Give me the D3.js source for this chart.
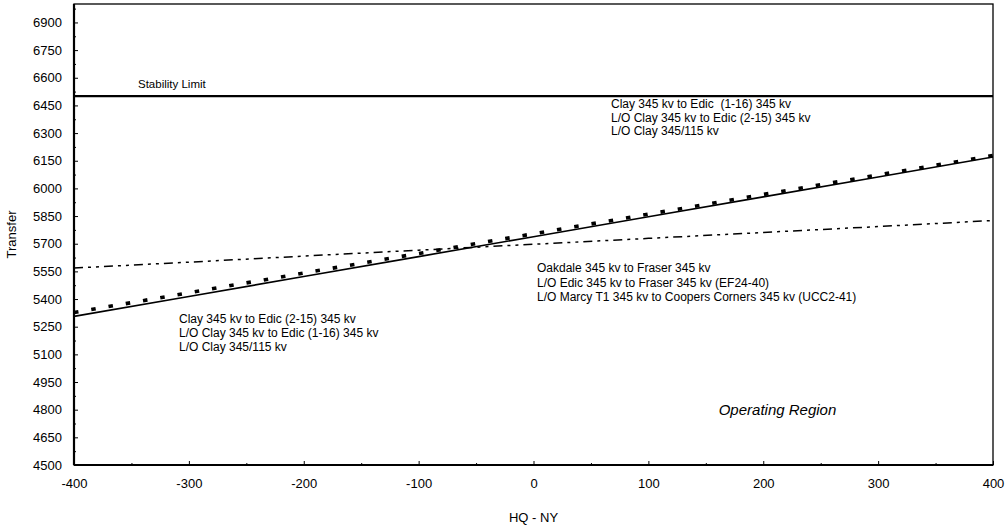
<!DOCTYPE html>
<html>
<head>
<meta charset="utf-8">
<script src="https://cdn.jsdelivr.net/npm/d3@7/dist/d3.min.js"></script>
<style>
  html, body { margin: 0; padding: 0; background: #fff; }
  svg { display: block; font-family: "Liberation Sans", Arial, sans-serif; }
  svg text { white-space: pre; }
  .tick text { font-size: 13px; fill: #000; }
  .tick line { stroke: #000; }
</style>
</head>
<body>
<svg id="chart" width="1006" height="527"></svg>
<script>
// HQ - NY transfer (MW) sample points
const hqNy = [-400, -300, -200, -100, 0, 100, 200, 300, 400];

// Clay-Edic (2-15) contingency limit, solid line
const clayEdic215 = [5306, 5414, 5522, 5630, 5738, 5846, 5954, 6062, 6170];
// Clay-Edic (1-16) contingency limit, square-dot line
const clayEdic116 = [5327, 5434, 5541, 5647, 5754, 5860, 5967, 6073, 6178];
// Oakdale-Fraser contingency limit, dash-dot line
const oakdaleFraser = [5568, 5600, 5633, 5665, 5697, 5729, 5761, 5793, 5826];

const stabilityLimit = 6500;

const xTicks = [-400, -300, -200, -100, 0, 100, 200, 300, 400];
const yTicks = [4500, 4650, 4800, 4950, 5100, 5250, 5400, 5550, 5700, 5850, 6000, 6150, 6300, 6450, 6600, 6750, 6900];

const notesUpper = [
  "Clay 345 kv to Edic  (1-16) 345 kv",
  "L/O Clay 345 kv to Edic (2-15) 345 kv",
  "L/O Clay 345/115 kv"
];
const notesMiddle = [
  "Oakdale 345 kv to Fraser 345 kv",
  "L/O Edic 345 kv to Fraser 345 kv (EF24-40)",
  "L/O Marcy T1 345 kv to Coopers Corners 345 kv (UCC2-41)"
];
const notesLower = [
  "Clay 345 kv to Edic (2-15) 345 kv",
  "L/O Clay 345 kv to Edic (1-16) 345 kv",
  "L/O Clay 345/115 kv"
];

const svg = d3.select("#chart");
const plotLeft = 74, plotRight = 993, plotTop = 4, plotBottom = 465;

const x = d3.scaleLinear().domain([-400, 400]).range([plotLeft, plotRight]);
const y = d3.scaleLinear().domain([4500, 7000]).range([plotBottom, plotTop]);

const plain = d => String(d);

// minor ticks
svg.append("g")
  .attr("transform", `translate(${plotLeft},0)`)
  .call(d3.axisLeft(y).tickValues(d3.range(4575, 7000, 150)).tickSizeInner(-2).tickSizeOuter(0).tickFormat(""))
  .call(g => g.select(".domain").remove());
svg.append("g")
  .attr("transform", `translate(0,${plotBottom})`)
  .call(d3.axisBottom(x).tickValues(d3.range(-350, 400, 100)).tickSizeInner(-2).tickSizeOuter(0).tickFormat(""))
  .call(g => g.select(".domain").remove());

// major axes, ticks pointing into the plot
svg.append("g")
  .attr("transform", `translate(${plotLeft},0)`)
  .call(d3.axisLeft(y).tickValues(yTicks).tickSizeInner(-4).tickSizeOuter(0).tickPadding(12).tickFormat(plain))
  .call(g => g.select(".domain").remove());
svg.append("g")
  .attr("transform", `translate(0,${plotBottom})`)
  .call(d3.axisBottom(x).tickValues(xTicks).tickSizeInner(-4).tickSizeOuter(0).tickPadding(14).tickFormat(plain))
  .call(g => g.select(".domain").remove());

// plot frame
svg.append("rect")
  .attr("x", plotLeft).attr("y", plotTop)
  .attr("width", plotRight - plotLeft).attr("height", plotBottom - plotTop)
  .attr("fill", "none").attr("stroke", "#000").attr("stroke-width", 1.3);
svg.append("line")
  .attr("x1", plotLeft).attr("x2", plotLeft).attr("y1", plotTop).attr("y2", plotBottom)
  .attr("stroke", "#000").attr("stroke-width", 2.2);
svg.append("line")
  .attr("x1", plotLeft).attr("x2", plotRight).attr("y1", plotBottom).attr("y2", plotBottom)
  .attr("stroke", "#000").attr("stroke-width", 2.2);

// stability limit
svg.append("line")
  .attr("x1", x(-400)).attr("x2", x(400))
  .attr("y1", y(stabilityLimit)).attr("y2", y(stabilityLimit))
  .attr("stroke", "#000").attr("stroke-width", 2.2);

const line = d3.line().x(d => x(d[0])).y(d => y(d[1]));

svg.append("path")
  .datum(hqNy.map((v, i) => [v, oakdaleFraser[i]]))
  .attr("d", line)
  .attr("fill", "none").attr("stroke", "#000").attr("stroke-width", 1.5)
  .attr("stroke-dasharray", "9,5,3,5,3,5");

svg.append("path")
  .datum(hqNy.map((v, i) => [v, clayEdic215[i]]))
  .attr("d", line)
  .attr("fill", "none").attr("stroke", "#000").attr("stroke-width", 1.6);

svg.append("path")
  .datum(hqNy.map((v, i) => [v, clayEdic116[i]]))
  .attr("d", line)
  .attr("fill", "none").attr("stroke", "#000").attr("stroke-width", 3.6)
  .attr("stroke-dasharray", "4.5,13");

// annotations
function block(lines, x0, y0, step) {
  svg.append("g").selectAll("text").data(lines).join("text")
    .attr("x", x0).attr("y", (d, i) => y0 + i * step)
    .attr("font-size", 12).attr("fill", "#000")
    .text(d => d);
}
block(notesUpper, 611, 108, 13.5);
block(notesMiddle, 537, 272, 14.5);
block(notesLower, 179, 323, 14);

svg.append("text")
  .attr("x", 138).attr("y", 88)
  .attr("font-size", 11.5).text("Stability Limit");

svg.append("text")
  .attr("x", 777.5).attr("y", 415)
  .attr("text-anchor", "middle")
  .attr("font-size", 15).attr("font-style", "italic")
  .text("Operating Region");

// axis titles
svg.append("text")
  .attr("x", (plotLeft + plotRight) / 2).attr("y", 522)
  .attr("text-anchor", "middle").attr("font-size", 13)
  .text("HQ - NY");
svg.append("text")
  .attr("transform", `translate(16,${(plotTop + plotBottom) / 2}) rotate(-90)`)
  .attr("text-anchor", "middle").attr("font-size", 13)
  .text("Transfer");
</script>
</body>
</html>
